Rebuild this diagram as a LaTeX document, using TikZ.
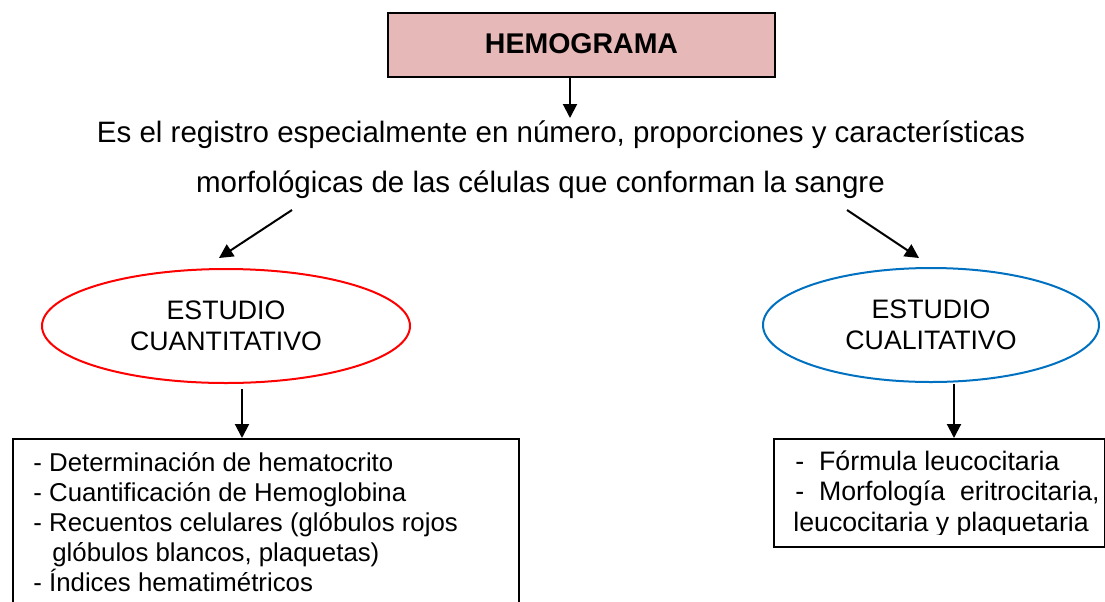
\documentclass[tikz,border=0pt]{standalone}
\usepackage{fontspec}
\setmainfont{Liberation Sans}
\usetikzlibrary{arrows.meta,shapes.geometric}
\definecolor{hemopink}{HTML}{E6B8B7}
\definecolor{qualblue}{HTML}{0070C0}
\begin{document}
\begin{tikzpicture}[x=0.5pt,y=-0.5pt,
  arr/.style={line width=1pt,-{Triangle[length=7pt,width=7pt]}},
  hemobox/.style={draw,line width=1pt,fill=hemopink,minimum width=193.5pt,minimum height=32pt,inner sep=0pt,font=\fontsize{14.25}{17}\selectfont\bfseries},
  ell/.style={draw,ellipse,line width=1pt,inner sep=0pt,align=center,font=\fontsize{13.35}{15.5}\selectfont},
  listbox/.style={draw,line width=1pt,inner sep=0pt,anchor=north west},
  desc/.style={anchor=base,inner sep=0pt,font=\fontsize{14.75}{17}\selectfont},
  listtext/.style={anchor=base west,inner sep=0pt}]
\useasboundingbox (0,0) rectangle (1105,601);
\clip (0,0) rectangle (1105,601);
% title
\node[hemobox] (hemo) at (581.5,45) {\raisebox{1pt}{HEMOGRAMA}};
% description
\node[desc] (d1) at (561,142) {Es el registro especialmente en número, proporciones y características};
\node[desc] (d2) at (540.5,192) {morfológicas de las células que conforman la sangre};
% ellipses
\node[ell,draw=red,minimum width=184pt,minimum height=57pt] (cuant) at (226,326) {ESTUDIO\\CUANTITATIVO};
\node[ell,draw=qualblue,minimum width=168pt,minimum height=57pt] (cual) at (931,325) {ESTUDIO\\CUALITATIVO};
% boxes
\node[listbox,minimum width=253pt,minimum height=100pt] (cuantbox) at (12,438) {};
\node[listbox,minimum width=165.5pt,minimum height=54pt] (cualbox) at (773,438) {};
\node[listtext] (cuantlist) at (33,471) {\parbox[t]{240pt}{\fontsize{12.9}{15}\selectfont
- Determinación de hematocrito\\
- Cuantificación de Hemoglobina\\
- Recuentos celulares (glóbulos rojos\\
\hspace*{9.5pt}glóbulos blancos, plaquetas)\\
- Índices hematimétricos}};
\begin{scope}
\clip (773,438) rectangle (1105,534);
\node[listtext] (cuallist) at (795,470) {\parbox[t]{160pt}{\fontsize{13.35}{15.25}\selectfont
-\ \ Fórmula leucocitaria\\
-\ \ Morfología\ \ eritrocitaria,\\
\hspace*{-1pt}leucocitaria y plaquetaria}};
\end{scope}
% connectors
\coordinate (t1) at (570,118);
\draw[arr] (hemo.south -| t1) -- (t1);
\coordinate (a2s) at (292,210);
\coordinate (a2e) at (219,258);
\draw[arr] (a2s) -- (a2e);
\coordinate (a3s) at (847,210);
\coordinate (a3e) at (919,258);
\draw[arr] (a3s) -- (a3e);
\coordinate (a4) at (242,389);
\draw[arr] (a4) -- (a4 |- cuantbox.north);
\coordinate (a5) at (954,384);
\draw[arr] (a5) -- (a5 |- cualbox.north);
\end{tikzpicture}
\end{document}
